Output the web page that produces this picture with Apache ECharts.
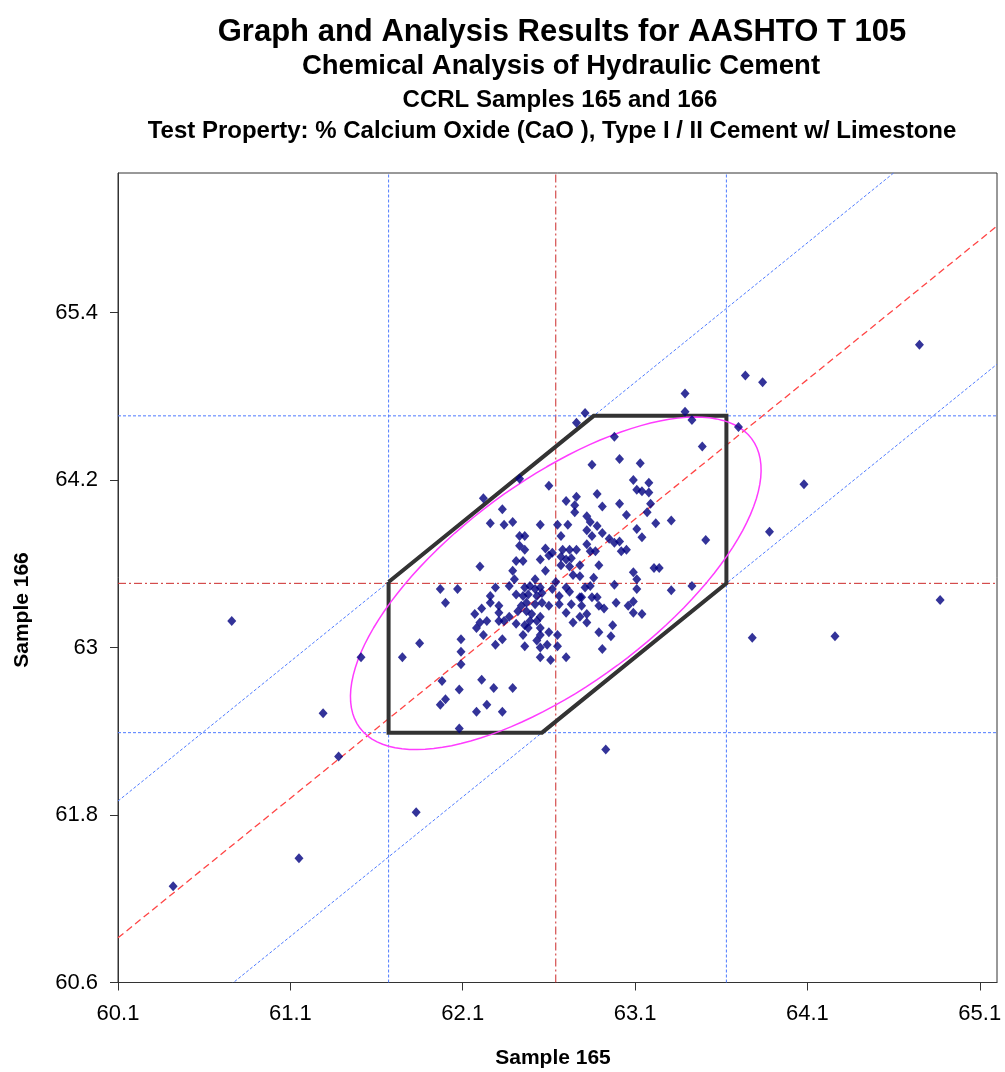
<!DOCTYPE html>
<html>
<head>
<meta charset="utf-8">
<title>AASHTO T 105 - Sample 165 vs 166</title>
<script src="https://cdn.jsdelivr.net/npm/echarts@6/dist/echarts.min.js"></script>
<style>
  html, body { margin: 0; padding: 0; background: #ffffff; }
  #chart { width: 1005px; height: 1072px; }
</style>
</head>
<body>
<div id="chart"></div>
<script>
// Laboratory results, % CaO: Sample 165 (x) paired with Sample 166 (y)
const sample165 = [
  62.81, 62.76, 62.98, 62.85, 63.01, 63.13, 63.74, 63.84, 63.39, 63.39,
  63.43, 63.70, 63.49, 63.09, 63.18, 63.14, 63.18, 63.19, 63.17, 63.22,
  63.31, 63.14, 63.51, 63.21, 63.24, 63.31, 63.43, 63.14, 63.88, 63.78,
  62.60, 62.43, 62.88, 63.11, 62.76, 62.70, 62.75, 62.91, 63.01, 62.33,
  62.75, 62.82, 63.05, 62.26, 62.34, 62.39, 62.55, 62.65, 62.71, 62.84,
  62.88, 62.82, 62.91, 62.85, 62.67, 62.95, 62.98, 63.01, 63.11, 62.43,
  62.46, 62.43, 62.46, 62.58, 62.62, 62.68, 62.72, 62.76, 62.82, 62.84,
  62.87, 63.02, 63.05, 62.55, 62.60, 62.67, 62.70, 62.73, 62.41, 62.45,
  62.67, 62.72, 62.78, 62.89, 62.58, 62.39, 62.52, 62.74, 62.78, 62.86,
  63.09, 63.11, 62.40, 62.37, 62.29, 62.46, 62.49, 62.52, 62.55, 62.64,
  62.62, 62.70, 62.72, 62.81, 62.84, 62.98, 62.41, 62.45, 62.48, 62.53,
  62.56, 62.66, 62.78, 62.79, 62.85, 62.88, 63.11, 62.99, 63.06, 63.09,
  62.26, 62.26, 62.31, 62.44, 62.47, 62.52, 62.56, 62.60, 62.66, 62.73,
  62.79, 62.89, 62.92, 62.31, 62.37, 62.42, 62.47, 62.50, 62.55, 62.70,
  62.78, 62.82, 63.09, 62.31, 62.34, 62.41, 62.46, 62.49, 62.53, 62.48,
  62.45, 62.55, 62.55, 62.60, 62.65, 62.53, 62.59, 62.55, 62.65, 62.55,
  62.61, 62.70, 62.33, 62.29, 62.46, 62.74, 62.82, 62.97, 62.89, 62.96,
  62.91, 62.28, 62.39, 62.33, 62.24, 62.93, 62.20, 62.18, 62.24, 62.22,
  62.09, 61.85, 62.09, 61.75, 61.51, 62.09, 61.98, 62.21, 62.08, 62.00,
  61.97, 62.18, 62.08, 61.38, 62.22, 62.20, 61.97, 62.07, 62.00, 62.21,
  62.17, 64.75, 64.87, 60.76, 60.42, 61.15, 61.83, 64.26, 64.08, 61.29
];
const sample166 = [
  64.68, 64.61, 64.51, 64.31, 64.35, 64.32, 64.95, 64.90, 64.82, 64.69,
  64.63, 64.58, 64.44, 64.20, 64.18, 64.12, 64.11, 64.03, 63.97, 63.89,
  63.91, 63.79, 63.77, 63.57, 63.57, 63.41, 63.44, 63.24, 63.83, 63.07,
  64.16, 64.21, 64.10, 64.13, 64.08, 64.05, 64.02, 64.01, 64.03, 63.99,
  63.97, 63.94, 63.95, 63.89, 63.88, 63.90, 63.88, 63.88, 63.88, 63.90,
  63.87, 63.84, 63.82, 63.80, 63.80, 63.78, 63.75, 63.76, 63.85, 63.80,
  63.80, 63.73, 63.70, 63.71, 63.68, 63.70, 63.70, 63.70, 63.74, 63.69,
  63.69, 63.69, 63.70, 63.63, 63.66, 63.65, 63.63, 63.64, 63.62, 63.62,
  63.59, 63.58, 63.59, 63.59, 63.55, 63.55, 63.49, 63.52, 63.51, 63.50,
  63.54, 63.49, 63.49, 63.44, 63.43, 63.43, 63.44, 63.42, 63.43, 63.47,
  63.42, 63.43, 63.40, 63.43, 63.44, 63.45, 63.38, 63.37, 63.38, 63.37,
  63.39, 63.37, 63.36, 63.36, 63.36, 63.36, 63.42, 63.32, 63.30, 63.33,
  63.37, 63.32, 63.30, 63.30, 63.32, 63.31, 63.32, 63.30, 63.31, 63.31,
  63.30, 63.30, 63.28, 63.25, 63.22, 63.26, 63.26, 63.24, 63.22, 63.25,
  63.22, 63.24, 63.25, 63.19, 63.19, 63.17, 63.16, 63.19, 63.19, 63.14,
  63.09, 63.14, 63.09, 63.11, 63.09, 63.05, 63.02, 63.00, 63.01, 62.93,
  62.91, 62.93, 63.06, 63.02, 63.01, 63.18, 63.18, 63.16, 63.11, 63.08,
  62.99, 62.71, 62.71, 62.54, 62.59, 62.27, 63.18, 63.14, 63.19, 63.09,
  63.06, 63.03, 62.97, 62.93, 62.93, 62.88, 62.76, 62.77, 62.70, 62.63,
  62.59, 62.54, 62.42, 62.22, 64.07, 63.58, 63.42, 63.42, 63.32, 63.28,
  63.24, 65.17, 63.34, 63.19, 61.29, 61.49, 61.82, 63.08, 64.17, 62.53
];

// Axis extents and tick labels
const xRange = [60.1, 65.2];
const yRange = [60.6, 66.4];
const xTicks = [60.1, 61.1, 62.1, 63.1, 64.1, 65.1];
const yTicks = [60.6, 61.8, 63.0, 64.2, 65.4];

// Analysis results
const centre = [62.64, 63.46];          // medians of Sample 165 and Sample 166
const xLimits = [61.67, 63.63];         // Sample 165 limits
const yLimits = [62.39, 64.66];         // Sample 166 limits
const diagOffsets = [1.80, -0.17];      // y - x of the upper and lower diagonal limits
const meanDiagOffset = 0.82;            // y - x of the 45-degree line through the medians
const ellipseAxes = [1.545, 0.672];     // semi-axes along and across the 45-degree line

const FONT = '"Liberation Sans", Arial, Helvetica, sans-serif';

function segment(points, style, z) {
  return {
    type: 'line',
    data: points,
    symbol: 'none',
    silent: true,
    animation: false,
    clip: true,
    z: z || 2,
    lineStyle: style
  };
}

const blueDot = { color: '#4f7bff', width: 1, type: [3, 2] };
const redDashDot = { color: '#cc2a2a', width: 1, type: [8, 3, 2, 3] };
const redDash = { color: '#ff4545', width: 1.3, type: [7, 4] };

// Limit polygon: box clipped by the two diagonal limit lines
const octagon = [
  [xLimits[0], xLimits[0] + diagOffsets[0]],
  [yLimits[1] - diagOffsets[0], yLimits[1]],
  [xLimits[1], yLimits[1]],
  [xLimits[1], xLimits[1] + diagOffsets[1]],
  [yLimits[0] - diagOffsets[1], yLimits[0]],
  [xLimits[0], yLimits[0]],
  [xLimits[0], xLimits[0] + diagOffsets[0]]
];

// Confidence ellipse oriented along the 45-degree direction
const ellipse = [];
for (let i = 0; i <= 120; i++) {
  const t = (i / 120) * 2 * Math.PI;
  const u = ellipseAxes[0] * Math.cos(t);
  const v = ellipseAxes[1] * Math.sin(t);
  ellipse.push([centre[0] + (u + v) / Math.SQRT2, centre[1] + (u - v) / Math.SQRT2]);
}

const points = sample165.map((x, i) => [x, sample166[i]]);

function tickFormatter(ticks) {
  return function (v) {
    const hit = ticks.some(t => Math.abs(t - v) < 1e-6);
    return hit ? String(+v.toFixed(1)) : '';
  };
}

const axisCommon = {
  type: 'value',
  splitLine: { show: false },
  axisLine: { show: true, onZero: false, lineStyle: { color: '#333333', width: 1 } },
  axisTick: { show: true, inside: false, length: 8, lineStyle: { color: '#333333', width: 1 } }
};

function titleText(text, x, y, size) {
  return {
    type: 'text', x: x, y: y, silent: true,
    style: {
      text: text, fill: '#000',
      font: 'bold ' + size + 'px ' + FONT,
      textAlign: 'center', textVerticalAlign: 'middle', align: 'center', verticalAlign: 'middle'
    }
  };
}

const chart = echarts.init(document.getElementById('chart'), null, { renderer: 'canvas' });

chart.setOption({
  backgroundColor: '#ffffff',
  animation: false,
  grid: {
    left: 118, top: 173, width: 879, height: 809.5,
    show: true, borderColor: '#333333', borderWidth: 1, backgroundColor: 'transparent'
  },
  xAxis: Object.assign({}, axisCommon, {
    min: xRange[0], max: xRange[1], interval: 1,
    axisTick: Object.assign({}, axisCommon.axisTick, { customValues: xTicks }),
    axisLabel: {
      customValues: xTicks,
      formatter: tickFormatter(xTicks),
      color: '#000000', fontSize: 22, fontFamily: FONT, margin: 20,
      showMaxLabel: true, showMinLabel: true
    }
  }),
  yAxis: Object.assign({}, axisCommon, {
    min: yRange[0], max: yRange[1], interval: 1.2,
    axisTick: Object.assign({}, axisCommon.axisTick, { customValues: yTicks }),
    axisLabel: {
      customValues: yTicks,
      formatter: tickFormatter(yTicks),
      color: '#000000', fontSize: 22, fontFamily: FONT, margin: 20,
      showMaxLabel: true, showMinLabel: true
    }
  }),
  graphic: [
    titleText('Graph and Analysis Results for AASHTO T 105', 562, 32, 31),
    titleText('Chemical Analysis of Hydraulic Cement', 561, 66, 27.5),
    titleText('CCRL Samples 165 and 166', 560, 100, 24),
    titleText('Test Property: % Calcium Oxide (CaO ), Type I / II Cement w/ Limestone', 552, 131, 24),
    titleText('Sample 165', 553, 1058, 21),
    Object.assign(titleText('Sample 166', 22, 610, 21), { rotation: Math.PI / 2 })
  ],
  series: [
    // Sample 165 limits and median
    segment([[xLimits[0], yRange[0]], [xLimits[0], yRange[1]]], blueDot),
    segment([[xLimits[1], yRange[0]], [xLimits[1], yRange[1]]], blueDot),
    segment([[centre[0], yRange[0]], [centre[0], yRange[1]]], redDashDot),
    // Sample 166 limits and median
    segment([[xRange[0], yLimits[0]], [xRange[1], yLimits[0]]], blueDot),
    segment([[xRange[0], yLimits[1]], [xRange[1], yLimits[1]]], blueDot),
    segment([[xRange[0], centre[1]], [xRange[1], centre[1]]], redDashDot),
    // Diagonal limits and 45-degree line through the medians
    segment([[xRange[0], xRange[0] + diagOffsets[0]], [xRange[1], xRange[1] + diagOffsets[0]]], blueDot),
    segment([[xRange[0], xRange[0] + diagOffsets[1]], [xRange[1], xRange[1] + diagOffsets[1]]], blueDot),
    segment([[xRange[0], xRange[0] + meanDiagOffset], [xRange[1], xRange[1] + meanDiagOffset]], redDash),
    // Limit polygon and ellipse
    segment(octagon, { color: '#333333', width: 4, join: 'miter' }, 3),
    segment(ellipse, { color: '#ff3cff', width: 1.5 }, 4),
    {
      type: 'scatter',
      data: points,
      symbol: 'diamond',
      symbolSize: [9, 10],
      itemStyle: { color: '#000080' },
      silent: true,
      animation: false,
      z: 5
    }
  ]
});
</script>
</body>
</html>
